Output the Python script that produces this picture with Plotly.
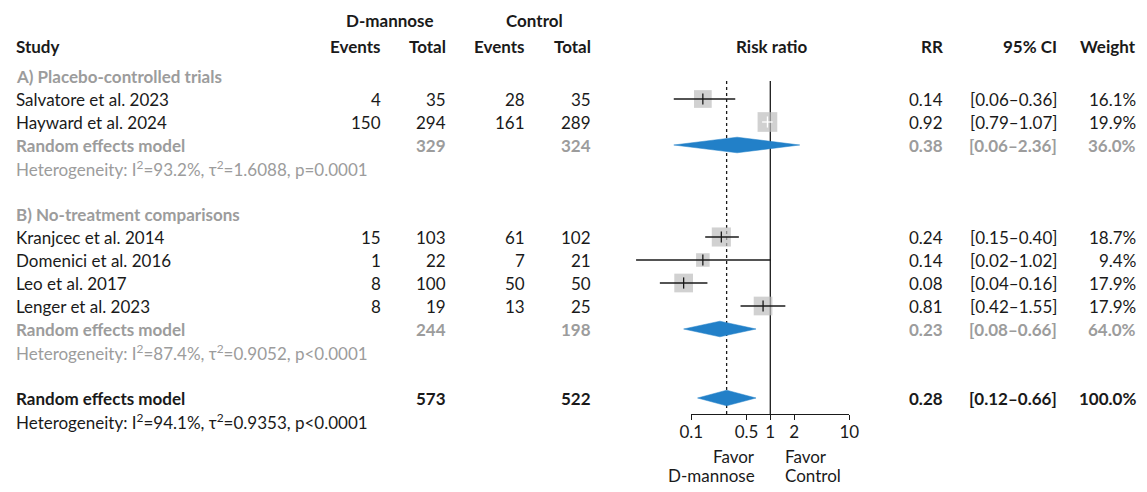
import math
import plotly.graph_objects as go

# ---- data ----
studies = ["Salvatore et al. 2023", "Hayward et al. 2024",
           "Kranjcec et al. 2014", "Domenici et al. 2016",
           "Leo et al. 2017", "Lenger et al. 2023"]
study_rows = [1, 2, 7, 8, 9, 10]
ev_dman = [4, 150, 15, 1, 8, 8]
n_dman = [35, 294, 103, 22, 100, 19]
ev_ctrl = [28, 161, 61, 7, 50, 13]
n_ctrl = [35, 289, 102, 21, 50, 25]
rr = [0.14, 0.92, 0.24, 0.14, 0.08, 0.81]
rr_lo = [0.06, 0.79, 0.15, 0.02, 0.04, 0.42]
rr_hi = [0.36, 1.07, 0.40, 1.02, 0.16, 1.55]
weight = [16.1, 19.9, 18.7, 9.4, 17.9, 17.9]

# pooled estimates: subgroup A, subgroup B, overall
pool_labels = ["Random effects model"] * 3
pool_rows = [3, 11, 14]
pool_n_dman = [329, 244, 573]
pool_n_ctrl = [324, 198, 522]
pool_rr = [0.38, 0.23, 0.28]
pool_lo = [0.06, 0.08, 0.12]
pool_hi = [2.36, 0.66, 0.66]
pool_weight = [36.0, 64.0, 100.0]

het_rows = [4, 12, 15]
het_text = ["Heterogeneity: I<sup>2</sup>=93.2%, τ<sup>2</sup>=1.6088, p=0.0001",
            "Heterogeneity: I<sup>2</sup>=87.4%, τ<sup>2</sup>=0.9052, p<0.0001",
            "Heterogeneity: I<sup>2</sup>=94.1%, τ<sup>2</sup>=0.9353, p<0.0001"]
group_rows = [0, 6]
group_labels = ["A) Placebo-controlled trials", "B) No-treatment comparisons"]

tick_vals = [0.1, 0.5, 1, 2, 10]
tick_text = ["0.1", "0.5", "1", "2", "10"]

# ---- layout constants (pixels) ----
W, H = 1147, 492
X1 = 770.3      # pixel of RR = 1
DEC = 79.0      # pixels per decade
Y0, ROW = 76.0, 23.0
AXIS_Y = 414
FONT = "Lato"
FS = 17
BLACK = "#1a1a1a"
GREY = "#9c9c9c"
SQUARE = "#bdbdbd"
BLUE = "#2280c8"


def row_of(py):
    return (py - Y0) / ROW


def px(v):
    return X1 + DEC * math.log10(v)


fig = go.Figure()

# reference lines (no effect, overall estimate)
top_row, bot_row = row_of(81), row_of(AXIS_Y)
fig.add_trace(go.Scatter(x=[1, 1], y=[top_row, bot_row], mode="lines",
                         line=dict(color=BLACK, width=1.3), hoverinfo="skip"))
fig.add_trace(go.Scatter(x=[pool_rr[2], pool_rr[2]], y=[top_row, bot_row], mode="lines",
                         line=dict(color=BLACK, width=1.3, dash="dot"), hoverinfo="skip"))

# study squares
sizes = [4.42 * math.sqrt(w) for w in weight]
fig.add_trace(go.Scatter(x=rr, y=study_rows, mode="markers",
                         marker=dict(symbol="square", size=sizes, color=SQUARE, line=dict(width=0)),
                         hoverinfo="skip"))

# confidence intervals, white when fully inside the square
for i in range(len(studies)):
    half = sizes[i] / 2
    inside = (px(rr[i]) - px(rr_lo[i]) < half) and (px(rr_hi[i]) - px(rr[i]) < half)
    col = "white" if inside else BLACK
    fig.add_trace(go.Scatter(x=[rr_lo[i], rr_hi[i]], y=[study_rows[i]] * 2, mode="lines",
                             line=dict(color=col, width=1.3), hoverinfo="skip"))
    fig.add_trace(go.Scatter(x=[rr[i]], y=[study_rows[i]], mode="markers",
                             marker=dict(symbol="line-ns", size=8,
                                         line=dict(color=col, width=1.3)),
                             hoverinfo="skip"))

# pooled diamonds
dh = 7.8 / ROW
for i in range(3):
    r = pool_rows[i]
    fig.add_trace(go.Scatter(x=[pool_lo[i], pool_rr[i], pool_hi[i], pool_rr[i], pool_lo[i]],
                             y=[r, r - dh, r, r + dh, r], mode="lines", fill="toself",
                             fillcolor=BLUE, line=dict(color=BLUE, width=0.5),
                             hoverinfo="skip"))

# axis subplot (only the 0.1 - 10 span)
fig.add_trace(go.Scatter(x=[0.1, 10], y=[0, 0], mode="markers", marker=dict(opacity=0),
                         xaxis="x2", yaxis="y2", hoverinfo="skip"))

# ---- text ----
ann = []


def txt(x, r, s, anchor="left", color=BLACK, bold=False, size=FS):
    if bold:
        s = "<b>" + s + "</b>"
    ann.append(dict(x=x / W, y=r, xref="paper", yref="y", text=s, showarrow=False,
                    xanchor=anchor, yanchor="middle",
                    font=dict(family=FONT, size=size, color=color)))


COL_STUDY = 14
COL_EV_D, COL_N_D, COL_EV_C, COL_N_C = 383, 448, 527, 593
COL_RR, COL_CI, COL_W = 945, 1059, 1138

# headers
txt(390, row_of(20.7), "D-mannose", "center", bold=True)
txt(534.5, row_of(20.7), "Control", "center", bold=True)
hr = row_of(46)
txt(COL_STUDY, hr, "Study", bold=True)
txt(COL_EV_D, hr, "Events", "right", bold=True)
txt(COL_N_D, hr, "Total", "right", bold=True)
txt(COL_EV_C, hr, "Events", "right", bold=True)
txt(COL_N_C, hr, "Total", "right", bold=True)
txt(771, hr, "Risk ratio", "center", bold=True)
txt(COL_RR, hr, "RR", "right", bold=True)
txt(COL_CI, hr, "95% CI", "right", bold=True)
txt(COL_W, hr, "Weight", "right", bold=True)

for r, s in zip(group_rows, group_labels):
    txt(COL_STUDY, r, s, color=GREY, bold=True)

for i in range(len(studies)):
    r = study_rows[i]
    txt(COL_STUDY, r, studies[i])
    txt(COL_EV_D, r, str(ev_dman[i]), "right")
    txt(COL_N_D, r, str(n_dman[i]), "right")
    txt(COL_EV_C, r, str(ev_ctrl[i]), "right")
    txt(COL_N_C, r, str(n_ctrl[i]), "right")
    txt(COL_RR, r, f"{rr[i]:.2f}", "right")
    txt(COL_CI, r, f"[{rr_lo[i]:.2f}–{rr_hi[i]:.2f}]", "right")
    txt(COL_W, r, f"{weight[i]:.1f}%", "right")

for i in range(3):
    r = pool_rows[i]
    col = BLACK if i == 2 else GREY
    txt(COL_STUDY, r, pool_labels[i], color=col, bold=True)
    txt(COL_N_D, r, str(pool_n_dman[i]), "right", color=col, bold=True)
    txt(COL_N_C, r, str(pool_n_ctrl[i]), "right", color=col, bold=True)
    txt(COL_RR, r, f"{pool_rr[i]:.2f}", "right", color=col, bold=True)
    txt(COL_CI, r, f"[{pool_lo[i]:.2f}–{pool_hi[i]:.2f}]", "right", color=col, bold=True)
    txt(COL_W, r, f"{pool_weight[i]:.1f}%", "right", color=col, bold=True)
    txt(COL_STUDY, het_rows[i], het_text[i], color=col)

txt(757, row_of(456.7), "Favor", "right")
txt(757, row_of(475.7), "D-mannose", "right")
txt(783, row_of(456.7), "Favor", "left")
txt(783, row_of(475.7), "Control", "left")

fig.update_layout(
    width=W, height=H,
    margin=dict(l=0, r=0, t=0, b=0, autoexpand=False),
    paper_bgcolor="white", plot_bgcolor="rgba(0,0,0,0)",
    showlegend=False,
    font=dict(family=FONT, size=FS, color=BLACK),
    annotations=ann,
    xaxis=dict(type="log", domain=[0, 1], range=[(0 - X1) / DEC, (W - X1) / DEC],
               visible=False, fixedrange=True, automargin=False),
    yaxis=dict(domain=[0, 1], range=[row_of(H), row_of(0)], visible=False,
               fixedrange=True, automargin=False),
    xaxis2=dict(type="log", domain=[(X1 - DEC) / W, (X1 + DEC) / W], range=[-1, 1],
                anchor="y2", showline=True, linecolor=BLACK, linewidth=1.3,
                ticks="outside", ticklen=5, tickwidth=1.3, tickcolor=BLACK,
                ticklabelstandoff=-3,
                tickvals=tick_vals, ticktext=tick_text, showgrid=False, zeroline=False,
                tickfont=dict(family=FONT, size=FS, color=BLACK), fixedrange=True,
                automargin=False),
    yaxis2=dict(domain=[(H - AXIS_Y) / H, (H - AXIS_Y + 1) / H], visible=False,
                fixedrange=True, automargin=False),
)

# drop the default page margin so the 1147x492 figure fits the window exactly
fig.write_html("out.html", post_script="document.body.style.margin='0';",
               config={"displayModeBar": False})
